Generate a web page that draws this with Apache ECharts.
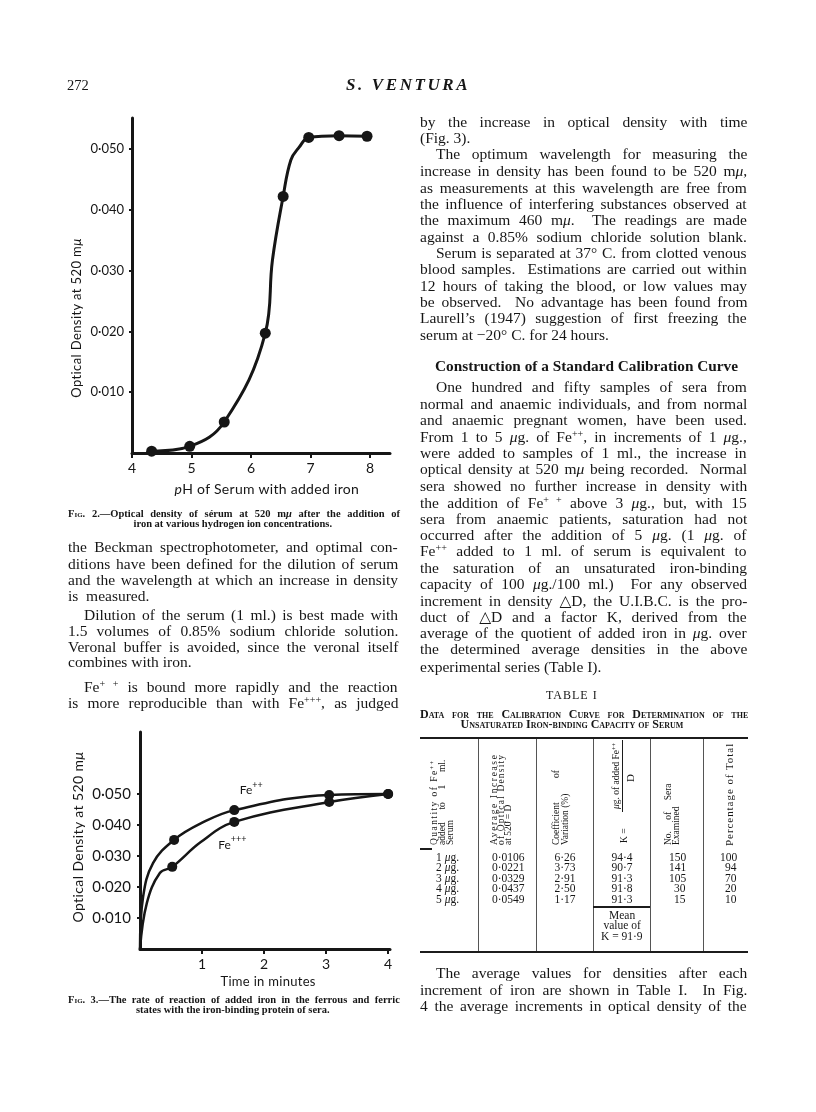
<!DOCTYPE html>
<html>
<head>
<meta charset="utf-8">
<script src="https://cdn.jsdelivr.net/npm/echarts@6/dist/echarts.min.js"></script>
<style>
  body { margin: 0; background: #fff; }
  #page { position: relative; width: 816px; height: 1112px; background: #fff; overflow: hidden; }
  #chart { position: absolute; left: 0; top: 0; width: 816px; height: 1112px; }
  #text { position: absolute; left: 0; top: 0; width: 816px; height: 1112px; pointer-events: none; color: #161616; }
  .serif { font-family: "Liberation Serif", "DejaVu Serif", serif; }
  .sans { font-family: Lato, "Open Sans", sans-serif; }
  .sup { font-size: 0.65em; vertical-align: 0.5em; line-height: 0; }
  .sc { font-variant: small-caps; }
  .rule { position: absolute; background: #1c1c1c; }
</style>
</head>
<body>
<div id="page">
  <div id="chart"></div>
  <div id="text"></div>
</div>
<script>
// ---- Fig. 2: optical density vs pH ----
const fig2Ph = [4.33, 4.97, 5.55, 6.24, 6.54, 6.97, 7.48, 7.95];
const fig2Density = [0.0003, 0.0011, 0.0051, 0.0197, 0.0422, 0.0519, 0.0522, 0.0521];
// points (no marker)
const fig2TracePh = [6.36, 6.67, 6.81];
const fig2TraceDensity = [0.0317, 0.0482, 0.0503];
const fig2XTicks = [4, 5, 6, 7, 8];
const fig2YTicks = [0.01, 0.02, 0.03, 0.04, 0.05];

// ---- Fig. 3: rate of reaction, Fe++ and Fe+++ ----
const fig3Fe2Time = [0.55, 1.52, 3.05, 4.0];
const fig3Fe2Density = [0.0352, 0.0448, 0.0497, 0.0500];
const fig3Fe3Time = [0.52, 1.52, 3.05, 4.0];
const fig3Fe3Density = [0.0265, 0.0410, 0.0474, 0.0500];
const fig3Fe2TraceTime = [0, 0.05, 0.21, 0.98];
const fig3Fe2TraceDensity = [0, 0.0168, 0.0277, 0.0405];
const fig3Fe3TraceTime = [0, 0.11, 0.32, 0.98];
const fig3Fe3TraceDensity = [0, 0.0148, 0.0245, 0.0345];
const fig3XTicks = [1, 2, 3, 4];
const fig3YTicks = [0.01, 0.02, 0.03, 0.04, 0.05];

// ---- Table I ----
const tabQuantity = ['1 μg.', '2 μg.', '3 μg.', '4 μg.', '5 μg.'];
const tabAvgIncrease = ['0·0106', '0·0221', '0·0329', '0·0437', '0·0549'];
const tabVariation = ['6·26', '3·73', '2·91', '2·50', '1·17'];
const tabK = ['94·4', '90·7', '91·3', '91·8', '91·3'];
const tabSera = ['150', '141', '105', '30', '15'];
const tabPercent = ['100', '94', '70', '20', '10'];
const tabMeanK = '91·9';

const ink = '#161616';
const dot = v => v.toFixed(3).replace('.', '·');

function curveData(tMeas, dMeas, tTrace, dTrace, size, labelIdx, label) {
  const pts = tMeas.map((t, i) => ({ value: [t, dMeas[i]], symbolSize: size, label: i === labelIdx ? label : undefined }));
  tTrace.forEach((t, i) => pts.push({ value: [t, dTrace[i]], symbolSize: 0 }));
  return pts.sort((a, b) => a.value[0] - b.value[0]);
}

const feRich = {
  a: { fontFamily: 'Lato', fontSize: 12, color: ink, lineHeight: 16, verticalAlign: 'bottom' },
  b: { fontFamily: 'Lato', fontSize: 9, color: ink, lineHeight: 9, verticalAlign: 'top' }
};

function axisBase(extra) {
  return Object.assign({
    type: 'value',
    splitLine: { show: false },
    axisLine: { lineStyle: { color: ink, width: 3 } },
  }, extra);
}

const chart = echarts.init(document.getElementById('chart'), null, { renderer: 'canvas' });
chart.setOption({
  animation: false,
  backgroundColor: '#fff',
  grid: [
    { left: 132, top: 118, width: 258, height: 335 },
    { left: 140, top: 732, width: 250, height: 217 }
  ],
  xAxis: [
    axisBase({
      gridIndex: 0, min: 4, max: 8.336, interval: 1,
      axisTick: { length: 5, lineStyle: { color: ink, width: 2 }, customValues: fig2XTicks },
      axisLabel: { color: ink, fontFamily: 'Lato', fontSize: 14, margin: 8, customValues: fig2XTicks, formatter: v => String(v) }
    }),
    axisBase({
      gridIndex: 1, min: 0, max: 4.03, interval: 1,
      axisTick: { length: 5, lineStyle: { color: ink, width: 2 }, customValues: fig3XTicks },
      axisLabel: { color: ink, fontFamily: 'Lato', fontSize: 14, margin: 8, customValues: fig3XTicks, formatter: v => String(v) }
    })
  ],
  yAxis: [
    axisBase({
      gridIndex: 0, min: 0, max: 0.0551, interval: 0.01,
      axisTick: { length: 3, lineStyle: { color: ink, width: 2 }, customValues: fig2YTicks },
      axisLabel: { color: ink, fontFamily: 'Lato', fontSize: 13, margin: 8, customValues: fig2YTicks, formatter: dot }
    }),
    axisBase({
      gridIndex: 1, min: 0, max: 0.07, interval: 0.01,
      axisTick: { length: 3, lineStyle: { color: ink, width: 2 }, customValues: fig3YTicks },
      axisLabel: { color: ink, fontFamily: 'Lato', fontSize: 15, margin: 9, customValues: fig3YTicks, formatter: dot }
    })
  ],
  series: [
    {
      type: 'line', xAxisIndex: 0, yAxisIndex: 0,
      data: curveData(fig2Ph, fig2Density, fig2TracePh, fig2TraceDensity, 11, -1),
      smooth: 0.4,
      symbol: 'circle',
      lineStyle: { color: ink, width: 3 }, itemStyle: { color: ink }
    },
    {
      type: 'line', xAxisIndex: 1, yAxisIndex: 1,
      data: curveData(fig3Fe2Time, fig3Fe2Density, fig3Fe2TraceTime, fig3Fe2TraceDensity, 10, 1,
        { show: true, position: 'top', distance: 0, offset: [17, -9], formatter: '{a|Fe}{b|++}', rich: feRich }),
      smooth: 0.4,
      symbol: 'circle',
      lineStyle: { color: ink, width: 2.5 }, itemStyle: { color: ink }
    },
    {
      type: 'line', xAxisIndex: 1, yAxisIndex: 1,
      data: curveData(fig3Fe3Time, fig3Fe3Density, fig3Fe3TraceTime, fig3Fe3TraceDensity, 10, 1,
        { show: true, position: 'bottom', distance: 0, offset: [-2, 8], formatter: '{a|Fe}{b|+++}', rich: feRich }),
      smooth: 0.4,
      symbol: 'circle',
      lineStyle: { color: ink, width: 2.5 }, itemStyle: { color: ink }
    }
  ]
});

// ---------------- page text ----------------
const T = document.getElementById('text');
const sup = s => `<span class="sup">${s}</span>`;

function put(html, x, y, o = {}) {
  const lh = o.lh || 16;
  const d = document.createElement('div');
  d.className = o.cls || 'serif';
  d.style.cssText = `position:absolute;white-space:pre;line-height:${lh}px;left:${x}px;top:${y - lh / 2}px;font-size:${o.size || 15.5}px;` + (o.css || '');
  d.innerHTML = html;
  T.appendChild(d);
  const nat = d.offsetWidth;
  if (o.w) {
    if (o.justify && nat < o.w) {
      const n = (d.textContent.match(/ /g) || []).length;
      if (n) d.style.wordSpacing = ((o.w - nat) / n) + 'px';
    } else if (nat > o.w) {
      d.style.transformOrigin = '0 50%';
      d.style.transform = `scaleX(${o.w / nat})`;
    }
  }
  if (o.center) d.style.left = (x - Math.min(nat, o.w || nat) / 2) + 'px';
  if (o.right) d.style.left = (x - nat) + 'px';
  return d;
}

// rotated text read bottom-to-top; x = centre of line, y = bottom (or centre)
function vput(html, x, y, o = {}) {
  const lh = o.lh || 10;
  const d = document.createElement('div');
  d.className = o.cls || 'serif';
  d.style.cssText = `position:absolute;white-space:pre;line-height:${lh}px;left:${x}px;top:${y}px;font-size:${o.size || 9.5}px;transform-origin:0 0;` + (o.css || '');
  d.innerHTML = html;
  T.appendChild(d);
  const nat = d.offsetWidth;
  if (o.len && nat < o.len) {
    if (o.words) {
      const n = (d.textContent.match(/ /g) || []).length;
      if (n) d.style.wordSpacing = ((o.len - nat) / n) + 'px';
    } else {
      d.style.letterSpacing = ((o.len - nat) / d.textContent.length) + 'px';
    }
  }
  d.style.transform = `rotate(-90deg) translate(${o.center ? '-50%' : '0'}, -50%)`;
  return d;
}

function rule(x, y, w, h, color) {
  const r = document.createElement('div');
  r.className = 'rule';
  r.style.cssText += `left:${x}px;top:${y}px;width:${w}px;height:${h}px;` + (color ? `background:${color};` : '');
  T.appendChild(r);
}

// running head
put('272', 67, 85, { size: 14.5 });
put('S. VENTURA', 346, 85, { size: 17, css: 'font-weight:bold;font-style:italic;letter-spacing:2.6px;' });

// fig 2 labels & caption
vput('Optical Density at 520 m<i>μ</i>', 76, 318, { cls: 'sans', size: 13, lh: 14, center: true, css: 'letter-spacing:0.4px;' });
put('<i>p</i>H of Serum with added iron', 267, 489, { cls: 'sans', size: 14, center: true, css: 'letter-spacing:0.3px;' });
put('<span class="sc">Fig</span>. 2.—Optical density of sérum at 520 m<i>μ</i> after the addition of', 68, 513, { size: 10.5, lh: 11, w: 332, justify: true, css: 'font-weight:bold;' });
put('iron at various hydrogen ion concentrations.', 233, 523, { size: 10.5, lh: 11, center: true, css: 'font-weight:bold;' });

// fig 3 labels & caption
vput('Optical Density at 520 m<i>μ</i>', 77, 837, { cls: 'sans', size: 14, lh: 15, center: true, css: 'letter-spacing:0.4px;' });
put('Time in minutes', 268, 981, { cls: 'sans', size: 13, center: true, css: 'letter-spacing:0.3px;' });
put('<span class="sc">Fig</span>. 3.—The rate of reaction of added iron in the ferrous and ferric', 68, 999, { size: 10.5, lh: 11, w: 332, justify: true, css: 'font-weight:bold;' });
put('states with the iron-binding protein of sera.', 233, 1009, { size: 10.5, lh: 11, center: true, css: 'font-weight:bold;' });

// left column body
const LX = 68, LW = 330, IND = 16;
const leftLines = [
  [547, 'the Beckman spectrophotometer, and optimal con-', 0, true],
  [564, 'ditions have been defined for the dilution of serum', 0, true],
  [580, 'and the wavelength at which an increase in density', 0, true],
  [596, 'is  measured.', 0, false],
  [615, 'Dilution of the serum (1 ml.) is best made with', IND, true],
  [631, '1.5 volumes of 0.85% sodium chloride solution.', 0, true],
  [647, 'Veronal buffer is avoided, since the veronal itself', 0, true],
  [662, 'combines with iron.', 0, false],
  [687, 'Fe' + sup('+ +') + ' is bound more rapidly and the reaction', IND, true],
  [703, 'is more reproducible than with Fe' + sup('+++') + ', as judged', 0, true]
];
leftLines.forEach(([y, h, ind, j]) => put(h, LX + ind, y, { w: LW - ind, justify: j }));

// right column body
const RX = 420, RW = 327;
const rightLines = [
  [122, 'by the increase in optical density with time', 0, true],
  [138, '(Fig. 3).', 0, false],
  [154, 'The optimum wavelength for measuring the', IND, true],
  [171, 'increase in density has been found to be 520 m<i>μ</i>,', 0, true],
  [188, 'as measurements at this wavelength are free from', 0, true],
  [204, 'the influence of interfering substances observed at', 0, true],
  [220, 'the maximum 460 m<i>μ</i>.  The readings are made', 0, true],
  [237, 'against a 0.85% sodium chloride solution blank.', 0, true],
  [253, 'Serum is separated at 37° C. from clotted venous', IND, true],
  [269, 'blood samples.  Estimations are carried out within', 0, true],
  [286, '12 hours of taking the blood, or low values may', 0, true],
  [302, 'be observed.  No advantage has been found from', 0, true],
  [318, 'Laurell’s (1947) suggestion of first freezing the', 0, true],
  [335, 'serum at −20° C. for 24 hours.', 0, false],
  [387, 'One hundred and fifty samples of sera from', IND, true],
  [404, 'normal and anaemic individuals, and from normal', 0, true],
  [420, 'and anaemic pregnant women, have been used.', 0, true],
  [437, 'From 1 to 5 <i>μ</i>g. of Fe' + sup('++') + ', in increments of 1 <i>μ</i>g.,', 0, true],
  [453, 'were added to samples of 1 ml., the increase in', 0, true],
  [469, 'optical density at 520 m<i>μ</i> being recorded.  Normal', 0, true],
  [486, 'sera showed no further increase in density with', 0, true],
  [503, 'the addition of Fe' + sup('+ +') + ' above 3 <i>μ</i>g., but, with 15', 0, true],
  [519, 'sera from anaemic patients, saturation had not', 0, true],
  [535, 'occurred after the addition of 5 <i>μ</i>g. (1 <i>μ</i>g. of', 0, true],
  [551, 'Fe' + sup('++') + ' added to 1 ml. of serum is equivalent to', 0, true],
  [568, 'the saturation of an unsaturated iron-binding', 0, true],
  [584, 'capacity of 100 <i>μ</i>g./100 ml.)  For any observed', 0, true],
  [601, 'increment in density △D, the U.I.B.C. is the pro-', 0, true],
  [617, 'duct of △D and a factor K, derived from the', 0, true],
  [633, 'average of the quotient of added iron in <i>μ</i>g. over', 0, true],
  [649, 'the determined average densities in the above', 0, true],
  [667, 'experimental series (Table I).', 0, false],
  [973, 'The average values for densities after each', IND, true],
  [990, 'increment of iron are shown in Table I.  In Fig.', 0, true],
  [1006, '4 the average increments in optical density of the', 0, true]
];
rightLines.forEach(([y, h, ind, j]) => put(h, RX + ind, y, { w: RW - ind, justify: j }));
put('Construction of a Standard Calibration Curve', 435, 366, { w: 303, justify: true, css: 'font-weight:bold;' });

// Table I
put('TABLE I', 572, 695, { size: 12, lh: 12, center: true, css: 'letter-spacing:1px;' });
put('Data for the Calibration Curve for Determination of the', 420, 714, { size: 12, lh: 12, w: 328, justify: true, css: 'font-variant:small-caps;font-weight:bold;' });
put('Unsaturated Iron-binding Capacity of Serum', 572, 724, { size: 12, lh: 12, center: true, css: 'font-variant:small-caps;font-weight:bold;' });

rule(420, 737, 328, 2);
rule(420, 951, 328, 2);
[478, 536, 593, 650, 703].forEach(x => rule(x, 739, 1, 212, '#555'));
rule(420, 848, 12, 1.5);
rule(593, 906, 57, 1.5);

// header cells (rotated)
vput('Quantity of Fe' + sup('++'), 434, 845, { len: 85 });
vput('added to 1 ml.', 442, 845, { len: 85, words: true });
vput('Serum', 450, 845);
vput('Average Increase', 494, 845, { len: 91 });
vput('of Optical Density', 501, 845, { len: 91 });
vput('at 520 = D', 508, 845);
vput('Coefficient of', 556, 845, { len: 75, words: true });
vput('Variation (%)', 565, 845);
vput('K =', 624, 843);
vput('<i>μ</i>g. of added Fe' + sup('++'), 616, 776, { center: true });
rule(622, 740, 1, 72);
vput('D', 630, 778, { center: true, size: 11 });
vput('No. of Sera', 668, 845, { len: 62, words: true });
vput('Examined', 676, 845);
vput('Percentage of Total', 729, 846, { size: 11, len: 103 });

// body rows
const rowY = [857, 867.5, 878, 888.5, 899];
rowY.forEach((y, i) => {
  const o = { size: 11.5, lh: 11 };
  put(tabQuantity[i].replace('μ', '<i>μ</i>'), 436, y, o);
  put(tabAvgIncrease[i], 492, y, o);
  put(tabVariation[i], 565, y, Object.assign({ center: true }, o));
  put(tabK[i], 622, y, Object.assign({ center: true }, o));
  put(tabSera[i], 686, y, Object.assign({ right: true }, o));
  put(tabPercent[i], 737, y, Object.assign({ right: true }, o));
});
put('Mean', 622, 915, { size: 11.5, lh: 11, center: true });
put('value of', 622, 925.5, { size: 11.5, lh: 11, center: true });
put('K = ' + tabMeanK, 622, 936, { size: 11.5, lh: 11, center: true });
</script>
</body>
</html>
